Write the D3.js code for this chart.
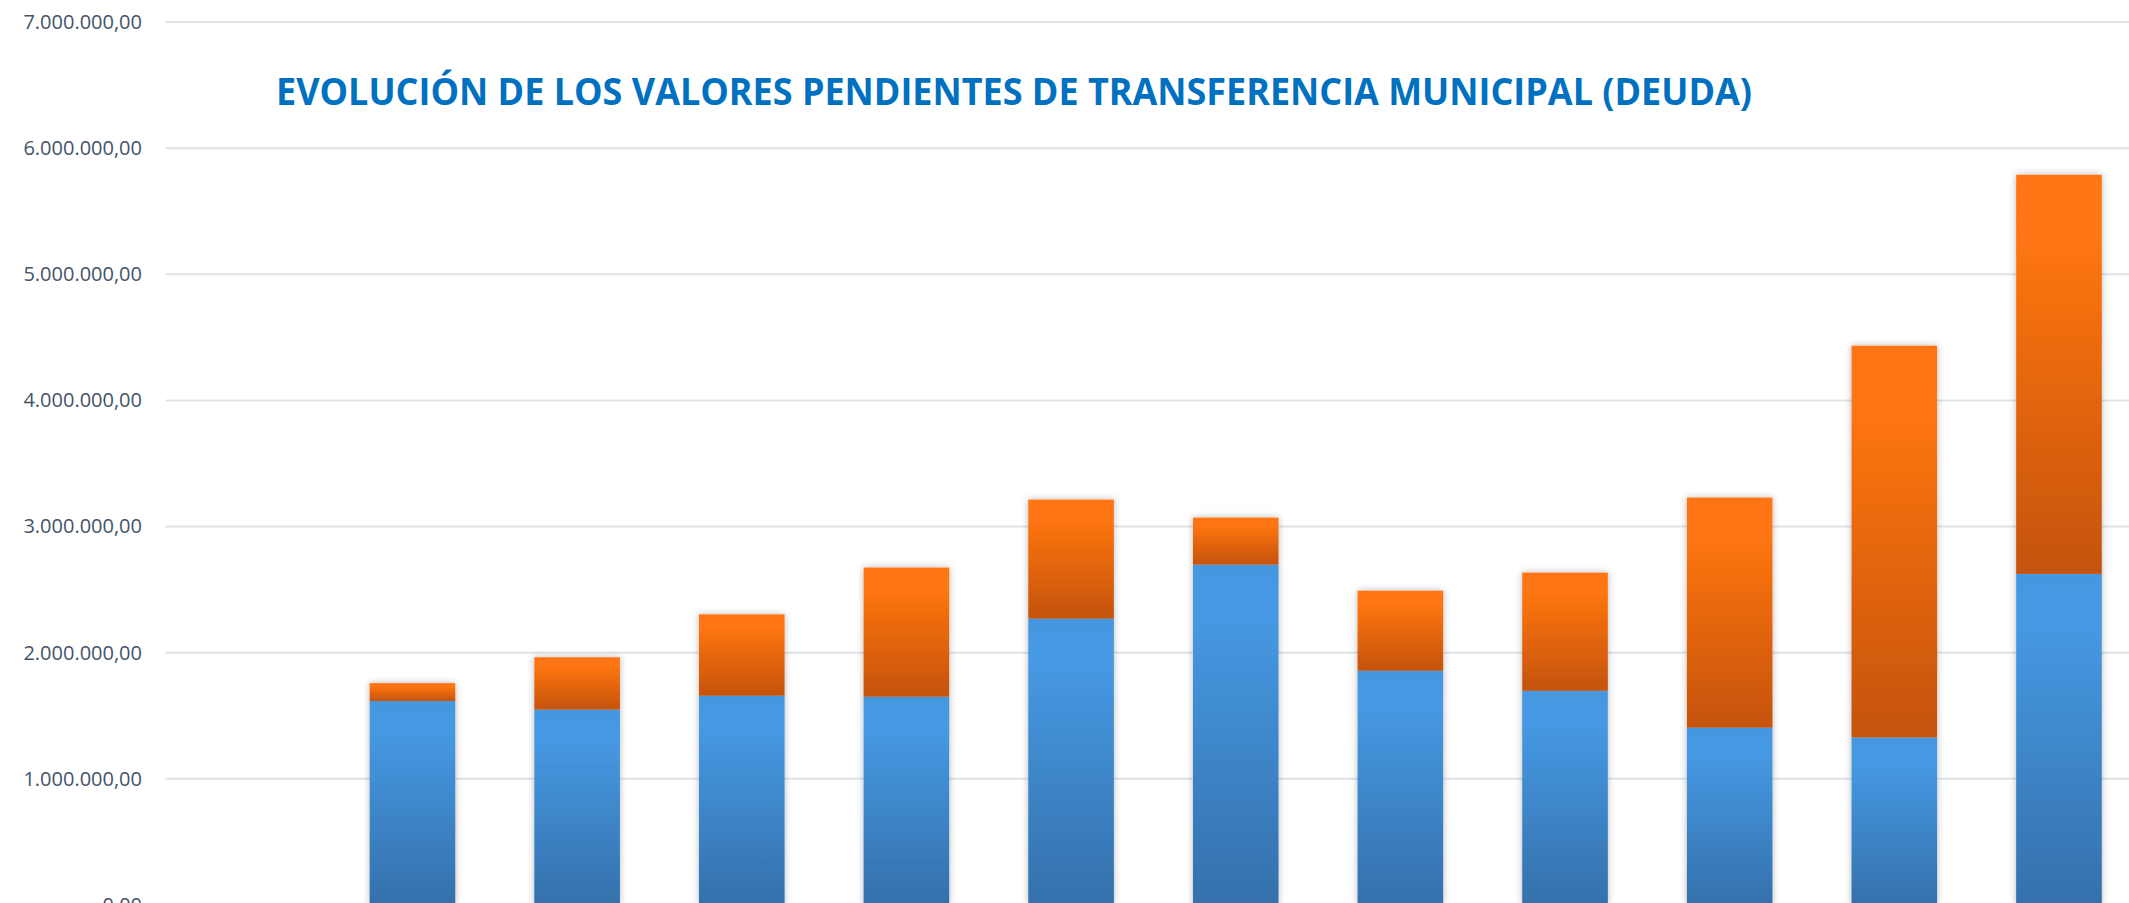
<!DOCTYPE html>
<html>
<head>
<meta charset="utf-8">
<script src="https://cdn.jsdelivr.net/npm/d3@7"></script>
<style>
  body { margin: 0; background: #fff; }
  svg { display: block; }
</style>
</head>
<body>
<div id="chart"></div>
<script>
// periods (x labels are cropped out of the picture)
let periods = ["P1", "P2", "P3", "P4", "P5", "P6", "P7", "P8", "P9", "P10", "P11", "P12"];
// first series (blue), lower part of each bar
let transferido = [0, 1617000, 1549000, 1659000, 1651000, 2270000, 2698000, 1857000, 1698000, 1406000, 1328000, 2625000];
// second series (orange), stacked on top
let pendiente = [0, 142000, 415000, 645000, 1024000, 944000, 373000, 635000, 937000, 1824000, 3106000, 3164000];
// y axis ticks
let yTicks = [0, 1000000, 2000000, 3000000, 4000000, 5000000, 6000000, 7000000];
let title = "EVOLUCIÓN DE LOS VALORES PENDIENTES DE TRANSFERENCIA MUNICIPAL (DEUDA)";

let frame = { width: 2129, height: 903 };
let plot = { left: 165.5, right: 2141.3, top: 22, bottom: 905 };

let locale = d3.formatLocale({ decimal: ",", thousands: ".", grouping: [3], currency: ["", ""] });
let fmt = locale.format(",.2f");

let rows = periods.map(function (p, i) {
    return { period: p, a: transferido[i], b: pendiente[i] };
});
let stacked = d3.stack().keys(["a", "b"])(rows);

let x = d3.scaleBand()
    .domain(periods)
    .range([plot.left, plot.right])
    .paddingInner(0.48)
    .paddingOuter(0.24);

let y = d3.scaleLinear()
    .domain([0, 7000000])
    .range([plot.bottom, plot.top]);

let svg = d3.select("#chart").append("svg")
    .attr("width", frame.width)
    .attr("height", frame.height);

let defs = svg.append("defs");

// gradients, one per series, per bar segment
function addGradient(id, stops) {
    let g = defs.append("linearGradient")
        .attr("id", id)
        .attr("x1", 0).attr("y1", 0).attr("x2", 0).attr("y2", 1);
    stops.forEach(function (s) {
        g.append("stop").attr("offset", s[0]).attr("stop-color", s[1]);
    });
}
addGradient("gradBlue", [[0, "#4597e0"], [0.15, "#4699e3"], [1, "#3470ab"]]);
addGradient("gradOrange", [[0, "#ff7512"], [0.15, "#ff7612"], [1, "#c5530c"]]);

let shadow = defs.append("filter")
    .attr("id", "shadow")
    .attr("x", "-20%").attr("y", "-20%")
    .attr("width", "140%").attr("height", "140%");
shadow.append("feDropShadow")
    .attr("dx", 0).attr("dy", 0)
    .attr("stdDeviation", 3.5)
    .attr("flood-color", "#000")
    .attr("flood-opacity", 0.28);

// grid lines
svg.append("g")
    .selectAll("line")
    .data(yTicks)
    .join("line")
    .attr("x1", plot.left)
    .attr("x2", frame.width)
    .attr("y1", function (d) { return y(d); })
    .attr("y2", function (d) { return y(d); })
    .attr("stroke", "#dfe3ea")
    .attr("stroke-width", 2);

// y axis labels
let yAxis = svg.append("g")
    .attr("transform", "translate(" + 142 + ",0)")
    .call(d3.axisLeft(y).tickValues(yTicks).tickFormat(fmt).tickSize(0).tickPadding(0));
yAxis.select(".domain").remove();
yAxis.selectAll("text")
    .attr("fill", "#44546a")
    .style("font-family", "'Open Sans', sans-serif")
    .style("font-size", "20px");

// bars
let fills = ["url(#gradBlue)", "url(#gradOrange)"];
svg.append("g")
    .attr("filter", "url(#shadow)")
    .selectAll("g")
    .data(stacked)
    .join("g")
    .attr("fill", function (d, i) { return fills[i]; })
    .selectAll("rect")
    .data(function (d) { return d.filter(function (v) { return v[1] - v[0] > 0; }); })
    .join("rect")
    .attr("x", function (d) { return x(d.data.period); })
    .attr("width", x.bandwidth())
    .attr("y", function (d) { return y(d[1]); })
    .attr("height", function (d) { return y(d[0]) - y(d[1]); });

// title
let t = svg.append("text")
    .attr("x", 276)
    .attr("y", 105)
    .attr("fill", "#0070c0")
    .style("font-family", "'Open Sans', sans-serif")
    .style("font-weight", "bold")
    .style("font-size", "37px")
    .text(title);
let w = t.node().getComputedTextLength();
if (Math.abs(w - 1476) > 10) {
    t.attr("textLength", 1476).attr("lengthAdjust", "spacingAndGlyphs");
}
</script>
</body>
</html>
